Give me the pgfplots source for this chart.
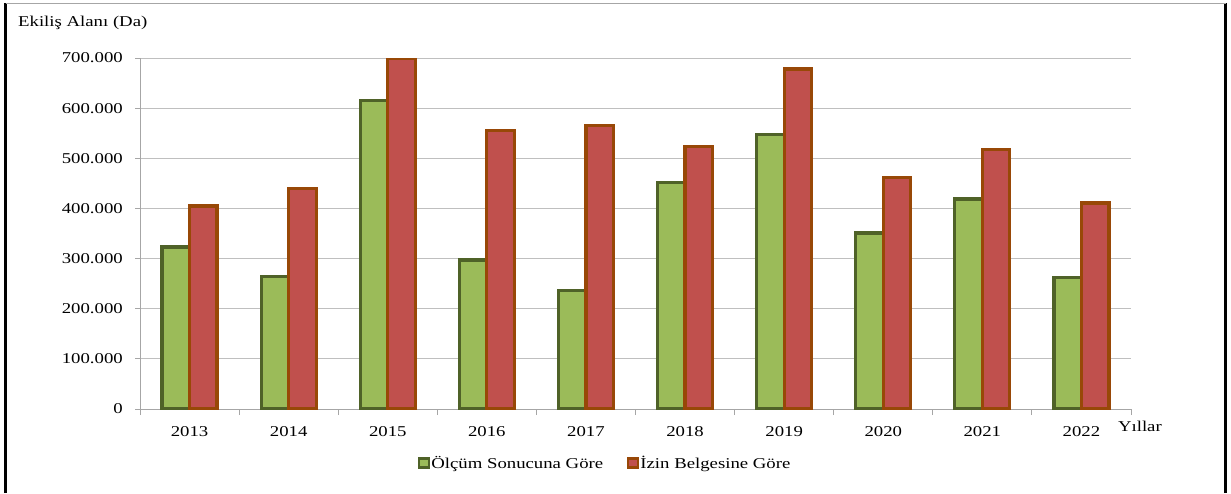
\documentclass[border=0pt]{standalone}
\usepackage{pgfplots}
\pgfplotsset{compat=1.18}
\usepackage{fontspec}
\setmainfont{Liberation Serif}[FakeStretch=1.25]
\definecolor{gfill}{HTML}{9BBB59}
\definecolor{gdraw}{HTML}{4F6228}
\definecolor{rfill}{HTML}{C0504D}
\definecolor{rdraw}{HTML}{984807}
\definecolor{gridgray}{HTML}{BFBFBF}
\definecolor{axgray}{HTML}{A6A6A6}
\begin{document}
\fontsize{15pt}{17pt}\selectfont
\begin{tikzpicture}[x=1pt,y=1pt]
\useasboundingbox (0,0) rectangle (1231,493);
\draw[line width=2.4pt] (5.5,0) -- (5.5,489.5);
\draw[line width=2.6pt] (1225.7,0) -- (1225.7,489.5);
\draw[axgray, line width=1pt] (5.5,489) -- (1225.7,489);
\node[anchor=base west, inner sep=0pt] at (18,466) {Ekiliş Alanı (Da)};
\begin{axis}[
  at={(140pt,84pt)}, anchor=south west,
  width=991pt, height=351pt, scale only axis,
  xmin=-0.5, xmax=9.5, ymin=0, ymax=700000,
  ybar=0pt, bar width=27.5pt,
  axis x line*=bottom, axis y line*=left,
  axis line style={-, draw=axgray, line width=1pt},
  xtick={0,...,9},
  xticklabels={2013,2014,2015,2016,2017,2018,2019,2020,2021,2022},
  major x tick style={draw=none},
  minor xtick={-0.5,0.5,...,9.5},
  minor tick length=6pt,
  major tick length=5pt,
  tick align=outside,
  tick style={draw=axgray, line width=1pt},
  ytick={0,100000,...,700000},
  scaled y ticks=false,
  ymajorgrids, grid style={gridgray, line width=1pt},
  /pgf/number format/.cd, fixed, 1000 sep={.}, assume math mode=true,
  /pgfplots/.cd,
  yticklabel style={anchor=east, inner sep=0pt, xshift=-12pt},
  xticklabel style={anchor=north, inner sep=0pt, yshift=-12pt},
  xlabel={Yıllar},
  xlabel style={at={(axis description cs:1.009,0)}, anchor=north, inner sep=0pt, yshift=-12pt},
  legend style={at={(axis description cs:0.469,-0.154)}, anchor=center, draw=none,
    inner sep=0pt, nodes={inner sep=1.5pt},
    /tikz/every even column/.append style={column sep=22pt}},
  legend columns=2,
]
\addplot[fill=gfill, draw=gdraw, line width=3.2pt,
  legend image code/.code={\draw[fill=gfill, draw=gdraw, line width=2.2pt] (0pt,-4.5pt) rectangle (10pt,4.5pt);}]
  coordinates {(0,323000) (1,265000) (2,616000) (3,297000) (4,237000) (5,451000) (6,548000) (7,351000) (8,419000) (9,263000)};
\addlegendentry{Ölçüm Sonucuna Göre}
\addplot[fill=rfill, draw=rdraw, line width=3.2pt,
  legend image code/.code={\draw[fill=rfill, draw=rdraw, line width=2.2pt] (0pt,-4.5pt) rectangle (10pt,4.5pt);}]
  coordinates {(0,405000) (1,439000) (2,699000) (3,556000) (4,566000) (5,523000) (6,678000) (7,461000) (8,518000) (9,411000)};
\addlegendentry{İzin Belgesine Göre}
\end{axis}
\end{tikzpicture}
\end{document}
